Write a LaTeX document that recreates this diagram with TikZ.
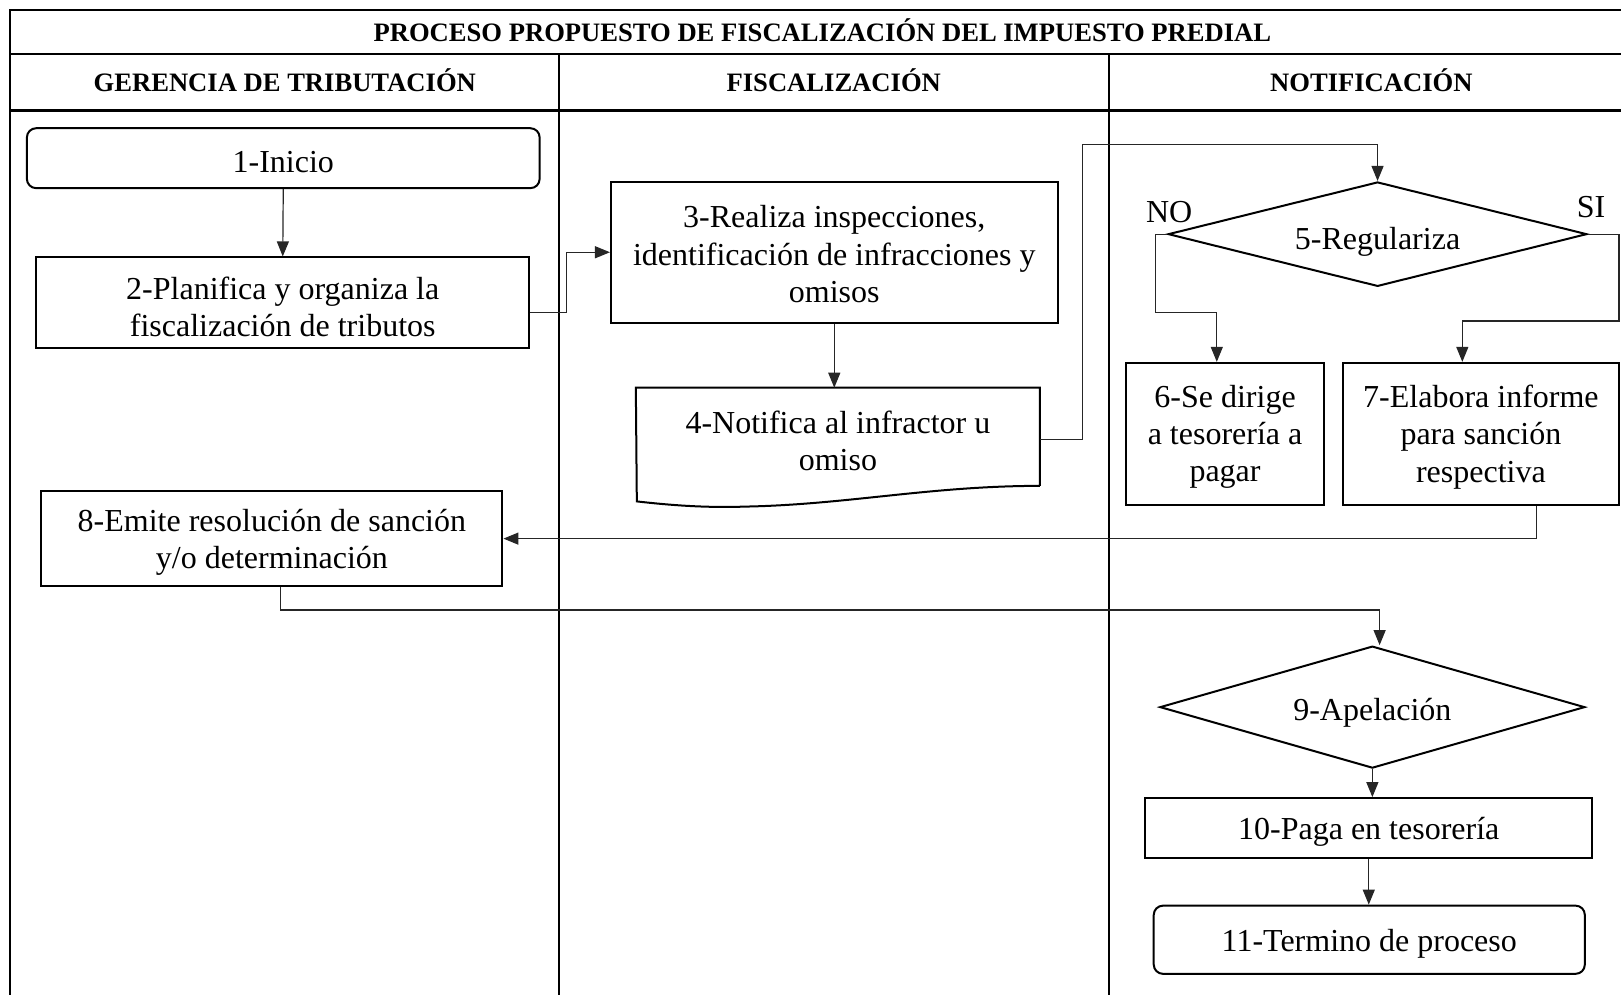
\documentclass[tikz,border=0pt]{standalone}
\usepackage{fontspec}
\setmainfont{Liberation Serif}
\usetikzlibrary{shapes.geometric,arrows.meta}
\newlength\pxu
\setlength\pxu{0.5169pt}

\begin{document}
\begin{tikzpicture}[x=\pxu,y=-\pxu,
   caja/.style={draw,line width=1pt,align=center,inner sep=0pt,font=\fontsize{16}{18.6}\selectfont},
   redondo/.style={caja,rounded corners=9\pxu,text height=14.5pt},
   rombo/.style={diamond,draw,line width=1pt,inner sep=0pt,align=center,font=\fontsize{16}{18.6}\selectfont},
   flecha/.style={draw=black!85,line width=0.6pt,-{Triangle[length=7.5pt,width=6pt]}},
   rotulo/.style={font=\fontsize{16}{18.6}\selectfont},
   cab/.style={font=\fontsize{13.3}{16}\selectfont\bfseries}]
   \useasboundingbox (0,0) rectangle (1568,962);
   \draw[line width=1pt] (10,962) -- (10,10) -- (1568,10);
   \draw[line width=1pt] (10,52) -- (1568,52);
   \draw[line width=1.5pt] (10,107) -- (1568,107);
   \draw[line width=1pt] (541,52) -- (541,962) (1073,52) -- (1073,962);
   \node[cab] (titulo) at (795.5,29.5) {PROCESO PROPUESTO DE FISCALIZACIÓN DEL IMPUESTO PREDIAL};
   \node[cab] (gerencia) at (275.5,77.5) {GERENCIA DE TRIBUTACIÓN};
   \node[cab] (fiscal) at (806.5,77.5) {FISCALIZACIÓN};
   \node[cab] (notif) at (1326.5,77.5) {NOTIFICACIÓN};
   \node[redondo,minimum width=496\pxu,minimum height=58\pxu] (inicio) at (274,153) {1-Inicio};
   \node[caja,minimum width=477\pxu,minimum height=88\pxu,text height=33.5pt] (planifica) at (273.5,293) {2-Planifica y organiza la\\fiscalización de tributos};
   \node[caja,minimum width=432\pxu,minimum height=136\pxu,text height=50.1pt] (realiza) at (807,244) {3-Realiza inspecciones,\\identificación de infracciones y\\omisos};
   \node[caja,draw=none,minimum width=389\pxu,minimum height=98\pxu,text height=31.5pt] (notifica) at (810.5,425) {4-Notifica al infractor u\\omiso};
   \draw[line width=1pt] ([yshift=5\pxu]notifica.south east) -- (notifica.north east) -- (notifica.north west) -- (616,485) .. controls (660,490) and (690,491) .. (722,490) .. controls (820,488) and (900,470) .. ([yshift=5\pxu]notifica.south east);
   \node[rombo,aspect=4,minimum width=405\pxu,minimum height=101\pxu,text height=19pt] (regulariza) at (1332.5,226.5) {5-Regulariza};
   \node[rotulo] (no) at (1131,205) {NO};
   \node[rotulo] (si) at (1539,200) {SI};
   \node[caja,minimum width=192\pxu,minimum height=137\pxu,text depth=-1.5pt] (dirige) at (1185,419.5) {6-Se dirige\\a tesorería a\\pagar};
   \node[caja,minimum width=267\pxu,minimum height=137\pxu,text depth=-1.5pt] (elabora) at (1432.5,419.5) {7-Elabora informe\\para sanción\\respectiva};
   \node[caja,minimum width=446\pxu,minimum height=92\pxu,text depth=-1.5pt] (emite) at (263,521) {8-Emite resolución de sanción\\y/o determinación};
   \node[rombo,aspect=3.5,minimum width=411\pxu,minimum height=118\pxu,text height=17pt] (apelacion) at (1327.5,684) {9-Apelación};
   \node[caja,minimum width=432\pxu,minimum height=58\pxu,text height=15pt] (paga) at (1324,801) {10-Paga en tesorería};
   \node[redondo,minimum width=417\pxu,minimum height=66\pxu,text height=15pt] (termino) at (1324.5,909) {11-Termino de proceso};
   \coordinate (subida) at (1047,140);
   \draw[flecha] (inicio.south) -- (planifica.north);
   \draw[flecha] ([yshift=-9\pxu]planifica.east) -- ++(35,0) |- (realiza.west);
   \draw[flecha] (realiza.south) -- (realiza.south |- notifica.north);
   \draw[flecha] (notifica.east) -| (subida) -| (regulariza.north);
   \draw[flecha] (regulariza.west) -- ++(-11,0) -- ++(0,76) -| ([xshift=-8\pxu]dirige.north);
   \draw[flecha] (regulariza.east) -- ++(30,0) -- ++(0,84) -| ([xshift=-18\pxu]elabora.north);
   \draw[flecha] ([xshift=54\pxu]elabora.south) |- (emite.east);
   \draw[flecha] ([xshift=8\pxu]emite.south) -- ++(0,22) -| ([xshift=7\pxu]apelacion.north);
   \draw[flecha] (apelacion.south) -- (apelacion.south |- paga.north);
   \draw[flecha] (paga.south) -- (paga.south |- termino.north);
\end{tikzpicture}
\end{document}
